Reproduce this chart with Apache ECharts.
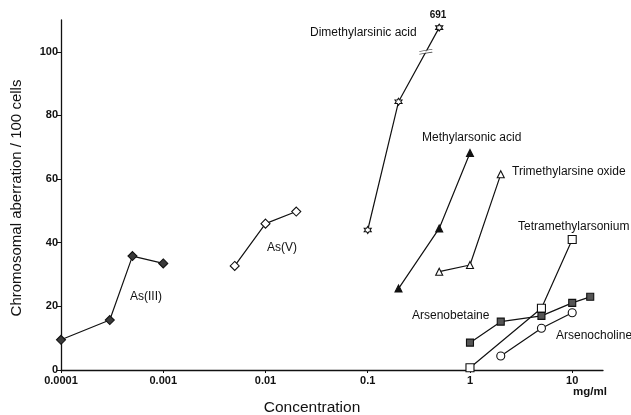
<!DOCTYPE html>
<html><head><meta charset="utf-8">
<script src="https://cdn.jsdelivr.net/npm/echarts@6/dist/echarts.min.js"></script>
<style>html,body{margin:0;padding:0;background:#fff}#c{width:631px;height:415px}</style>
</head><body><div id="c"></div>
<script>
// Concentration (mg/ml) and chromosomal aberrations / 100 cells
const asIII_x = [0.0001, 0.0003, 0.0005, 0.001];
const asIII_y = [9.5, 15.7, 35.8, 33.5];
const asV_x = [0.005, 0.01, 0.02];
const asV_y = [32.7, 46, 49.8];
const dma_x = [0.1, 0.2, 0.5];
const dma_y = [44, 84.3, 107.6];
const mma_x = [0.2, 0.5, 1];
const mma_y = [25.6, 44.5, 68.2];
const tmao_x = [0.5, 1, 2];
const tmao_y = [30.9, 33, 61.5];
const tma_x = [1, 5, 10];
const tma_y = [0.7, 19.4, 41];
const ab_x = [1, 2, 5, 10, 15];
const ab_y = [8.6, 15.2, 17, 21.1, 23];
const ac_x = [2, 5, 10];
const ac_y = [4.4, 13.1, 18];
const breakMark = [[0.37, 100]];
const yTicks = [0, 20, 40, 60, 80, 100];
const xTicks = [0.0001, 0.001, 0.01, 0.1, 1, 10];
const xTickLabels = ['0.0001', '0.001', '0.01', '0.1', '1', '10'];

const zip = (xs, ys) => xs.map((x, i) => [x, ys[i]]);
const FONT = '"Liberation Sans", Arial, sans-serif';
const star = 'path://M0,-10 L2.9,-5 L8.66,-5 L5.8,0 L8.66,5 L2.9,5 L0,10 L-2.9,5 L-8.66,5 L-5.8,0 L-8.66,-5 L-2.9,-5 Z';

function ser(name, xs, ys, symbol, size, fill) {
  return {
    name, type: 'line', data: zip(xs, ys), symbol, symbolSize: size,
    showAllSymbol: true, z: 3,
    lineStyle: { color: '#111', width: 1.2 },
    itemStyle: { color: fill, borderColor: '#111', borderWidth: 1.1 },
    emphasis: { disabled: true }, animation: false
  };
}

const chart = echarts.init(document.getElementById('c'));
chart.setOption({
  animation: false,
  backgroundColor: '#fff',
  grid: { left: 61, right: 28, top: 20, bottom: 45 },
  xAxis: {
    type: 'log', logBase: 10, min: 0.0001, max: 20,
    axisLine: { lineStyle: { color: '#111', width: 1.3 } },
    axisTick: { show: true, length: 3, lineStyle: { color: '#111' }, customValues: xTicks },
    axisLabel: {
      customValues: xTicks, margin: 5,
      formatter: v => { const i = xTicks.findIndex(t => Math.abs(Math.log10(t) - Math.log10(v)) < 1e-6); return i >= 0 ? xTickLabels[i] : ''; },
      color: '#111', fontFamily: FONT, fontWeight: 'bold', fontSize: 11
    },
    splitLine: { show: false }, minorTick: { show: false }
  },
  yAxis: {
    type: 'value', min: 0, max: 110,
    axisLine: { show: true, lineStyle: { color: '#111', width: 1.3 } },
    axisTick: { show: true, length: 4, lineStyle: { color: '#111' }, customValues: yTicks },
    axisLabel: { customValues: yTicks, margin: 3, color: '#111', fontFamily: FONT, fontWeight: 'bold', fontSize: 11 },
    splitLine: { show: false }
  },
  series: [
    ser('As(III)', asIII_x, asIII_y, 'diamond', 9, '#3a3a3a'),
    ser('As(V)', asV_x, asV_y, 'diamond', 9, '#fff'),
    ser('Dimethylarsinic acid', dma_x, dma_y, star, 7, '#fff'),
    ser('Methylarsonic acid', mma_x, mma_y, 'triangle', 7, '#111'),
    ser('Trimethylarsine oxide', tmao_x, tmao_y, 'triangle', 7, '#fff'),
    ser('Tetramethylarsonium', tma_x, tma_y, 'rect', 8, '#fff'),
    ser('Arsenobetaine', ab_x, ab_y, 'rect', 7, '#555'),
    ser('Arsenocholine', ac_x, ac_y, 'circle', 8, '#fff'),
    {
      type: 'scatter', data: breakMark, z: 5,
      symbol: 'path://M0,4 L20,0 L20,5 L0,9 Z', symbolSize: [13, 5],
      itemStyle: { color: '#fff', borderWidth: 0 },
      emphasis: { disabled: true }
    },
    {
      type: 'scatter', data: breakMark, z: 6,
      symbol: 'path://M0,4 L20,0 M0,9 L20,5', symbolSize: [13, 5],
      itemStyle: { color: 'none', borderColor: '#111', borderWidth: 1 },
      emphasis: { disabled: true }
    }
  ],
  graphic: [
    { type: 'text', rotation: Math.PI / 2, x: 17, y: 198,
      style: { text: 'Chromosomal aberration / 100 cells', font: '15px ' + FONT, fill: '#111', align: 'center', verticalAlign: 'middle' } },
    { type: 'text', x: 312, y: 408, style: { text: 'Concentration', font: '15.5px ' + FONT, fill: '#111', align: 'center', verticalAlign: 'middle' } },
    { type: 'text', x: 573, y: 392, style: { text: 'mg/ml', font: 'bold 11.5px ' + FONT, fill: '#111', align: 'left', verticalAlign: 'middle' } },
    { type: 'text', x: 438, y: 15, style: { text: '691', font: 'bold 10px ' + FONT, fill: '#111', align: 'center', verticalAlign: 'middle' } },
    { type: 'text', x: 310, y: 33, style: { text: 'Dimethylarsinic acid', font: '12px ' + FONT, fill: '#111', verticalAlign: 'middle' } },
    { type: 'text', x: 422, y: 138, style: { text: 'Methylarsonic acid', font: '12px ' + FONT, fill: '#111', verticalAlign: 'middle' } },
    { type: 'text', x: 512, y: 172, style: { text: 'Trimethylarsine oxide', font: '12px ' + FONT, fill: '#111', verticalAlign: 'middle' } },
    { type: 'text', x: 518, y: 227, style: { text: 'Tetramethylarsonium', font: '12px ' + FONT, fill: '#111', verticalAlign: 'middle' } },
    { type: 'text', x: 412, y: 316, style: { text: 'Arsenobetaine', font: '12px ' + FONT, fill: '#111', verticalAlign: 'middle' } },
    { type: 'text', x: 556, y: 336, style: { text: 'Arsenocholine', font: '12px ' + FONT, fill: '#111', verticalAlign: 'middle' } },
    { type: 'text', x: 130, y: 297, style: { text: 'As(III)', font: '12px ' + FONT, fill: '#111', verticalAlign: 'middle' } },
    { type: 'text', x: 267, y: 248, style: { text: 'As(V)', font: '12px ' + FONT, fill: '#111', verticalAlign: 'middle' } }
  ]
});
</script>
</body></html>
